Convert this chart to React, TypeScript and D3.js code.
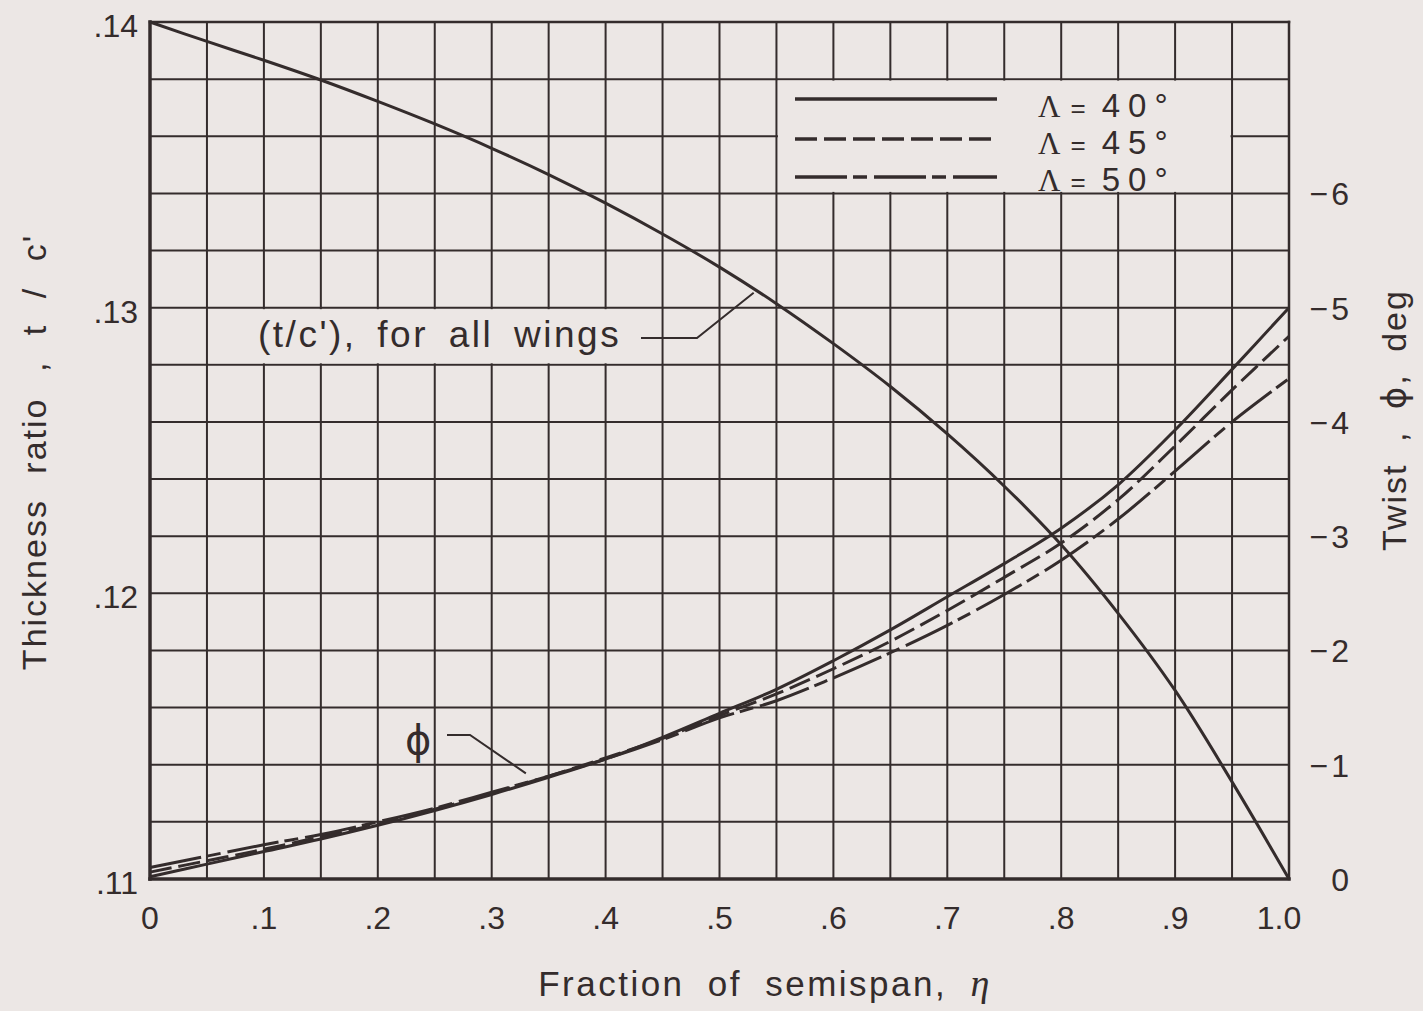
import React from 'react';
import * as d3 from 'd3';

// ---- data ----
const eta = [0, 0.05, 0.1, 0.15, 0.2, 0.25, 0.3, 0.35, 0.4, 0.45, 0.5, 0.55, 0.6, 0.65, 0.7, 0.75, 0.8, 0.85, 0.9, 0.95, 1.0];
const thicknessRatio = [0.14, 0.13932, 0.13866, 0.13797, 0.13722, 0.13643, 0.13558, 0.13466, 0.13366, 0.13258, 0.13142, 0.13014, 0.12874, 0.12724, 0.12558, 0.12375, 0.1217, 0.1193, 0.1166, 0.1134, 0.11];
const twist40 = [-0.02, -0.13, -0.24, -0.35, -0.47, -0.6, -0.74, -0.89, -1.05, -1.24, -1.45, -1.66, -1.91, -2.18, -2.47, -2.76, -3.07, -3.45, -3.93, -4.46, -5.0];
const twist45 = [-0.06, -0.16, -0.26, -0.37, -0.48, -0.61, -0.75, -0.9, -1.06, -1.23, -1.43, -1.62, -1.84, -2.08, -2.35, -2.64, -2.94, -3.32, -3.79, -4.28, -4.75];
const twist50 = [-0.1, -0.2, -0.3, -0.39, -0.5, -0.62, -0.76, -0.9, -1.05, -1.22, -1.41, -1.56, -1.76, -1.98, -2.22, -2.49, -2.79, -3.15, -3.57, -4.0, -4.38];

const etaTicks = [0, 0.1, 0.2, 0.3, 0.4, 0.5, 0.6, 0.7, 0.8, 0.9, 1.0];
const etaTickLabels = ['0', '.1', '.2', '.3', '.4', '.5', '.6', '.7', '.8', '.9', '1.0'];
const tcTicks = [0.11, 0.12, 0.13, 0.14];
const tcTickLabels = ['.11', '.12', '.13', '.14'];
const twistTicks = [0, -1, -2, -3, -4, -5, -6];
const twistTickLabels = ['0', '\u22121', '\u22122', '\u22123', '\u22124', '\u22125', '\u22126'];
const sweepLabels = ['40°', '45°', '50°'];
const sweepDashes = ['none', '22,7', '52,6,14,7'];

const W = 1423;
const H = 1011;
const BG = '#ece7e5';
const INK = '#342c2c';
const FONT = "'Liberation Sans', Arial, sans-serif";
const SERIF = "'Liberation Serif', 'DejaVu Serif', serif";

export default function App() {
  const x = d3.scaleLinear().domain([0, 1]).range([150, 1289]);
  const yL = d3.scaleLinear().domain([0.11, 0.14]).range([879, 22]);
  const yR = d3.scaleLinear().domain([0, -7.5]).range([879, 22]);

  const xGrid = d3.range(0, 21).map((i) => i * 0.05);
  const yGrid = d3.range(0, 16).map((i) => 0.11 + i * 0.002);

  const tcLine = d3
    .line<number>()
    .x((_, i) => x(eta[i]))
    .y((d) => yL(d))
    .curve(d3.curveCatmullRom.alpha(0.5));
  const twLine = d3
    .line<number>()
    .x((_, i) => x(eta[i]))
    .y((d) => yR(d))
    .curve(d3.curveCatmullRom.alpha(0.5));

  const twistSeries = [twist40, twist45, twist50];

  // boxes where the grid is blanked for lettering
  const legendBox = { x0: x(0.55), x1: x(0.95), y0: yL(0.138), y1: yL(0.134) };
  const labelBox = { x0: x(0.05), x1: x(0.45), y0: yL(0.13), y1: yL(0.128) };

  const legendLineY = [99, 139, 177];
  const legendBaseY = [117, 154, 191];

  return (
    <svg
      width={W}
      height={H}
      viewBox={`0 0 ${W} ${H}`}
      style={{ position: 'absolute', left: 0, top: 0, background: BG }}
    >
      <rect x={0} y={0} width={W} height={H} fill={BG} />

      {/* grid */}
      <g stroke={INK} strokeWidth={2}>
        {xGrid.map((v, i) => (
          <line key={'gx' + i} x1={x(v)} x2={x(v)} y1={yL(0.14)} y2={yL(0.11)} />
        ))}
        {yGrid.map((v, i) => (
          <line key={'gy' + i} x1={x(0)} x2={x(1)} y1={yL(v)} y2={yL(v)} />
        ))}
      </g>

      {/* blanked boxes */}
      <rect
        x={legendBox.x0 + 1.5}
        y={legendBox.y0 + 1.5}
        width={legendBox.x1 - legendBox.x0 - 3}
        height={legendBox.y1 - legendBox.y0 - 3}
        fill={BG}
      />
      <rect
        x={labelBox.x0 + 1.5}
        y={labelBox.y0 + 1.5}
        width={labelBox.x1 - labelBox.x0 - 3}
        height={labelBox.y1 - labelBox.y0 - 3}
        fill={BG}
      />

      {/* frame */}
      <g stroke={INK} strokeLinecap="square">
        <line x1={x(0)} x2={x(0)} y1={yL(0.14)} y2={yL(0.11)} strokeWidth={3.5} />
        <line x1={x(0)} x2={x(1)} y1={yL(0.11)} y2={yL(0.11)} strokeWidth={3.5} />
        <line x1={x(0)} x2={x(1)} y1={yL(0.14)} y2={yL(0.14)} strokeWidth={2.5} />
        <line x1={x(1)} x2={x(1)} y1={yL(0.14)} y2={yL(0.11)} strokeWidth={2.5} />
      </g>

      {/* curves */}
      <path d={tcLine(thicknessRatio) || ''} fill="none" stroke={INK} strokeWidth={3} />
      {twistSeries.map((s, i) => (
        <path
          key={'tw' + i}
          d={twLine(s) || ''}
          fill="none"
          stroke={INK}
          strokeWidth={3}
          strokeDasharray={sweepDashes[i]}
        />
      ))}

      {/* legend */}
      {sweepLabels.map((lab, i) => (
        <line
          key={'ll' + i}
          x1={795}
          x2={997}
          y1={legendLineY[i]}
          y2={legendLineY[i]}
          stroke={INK}
          strokeWidth={3.5}
          strokeDasharray={sweepDashes[i]}
        />
      ))}
      {sweepLabels.map((lab, i) => (
        <text
          key={'lt' + i}
          x={1038}
          y={legendBaseY[i]}
          fill={INK}
          fontFamily={FONT}
          fontSize={33}
        >
          <tspan fontFamily={SERIF} fontSize={31}>
            Λ
          </tspan>
          <tspan dx={10} fontSize={26}>=</tspan>
          <tspan dx={16} letterSpacing={8}>{lab}</tspan>
        </text>
      ))}

      {/* annotations */}
      <text
        x={258}
        y={347}
        fill={INK}
        fontFamily={FONT}
        fontSize={37}
        letterSpacing={2.5}
        wordSpacing={8}
      >
        (t/c'), for all wings
      </text>
      <polyline
        points={`641,338 697,338 ${x(0.53)},${yL(thicknessRatio[11]) - 11}`}
        fill="none"
        stroke={INK}
        strokeWidth={2}
      />
      <text x={405} y={754} fill={INK} fontFamily="'DejaVu Sans', sans-serif" fontSize={40}>
        ϕ
      </text>
      <polyline
        points={`447,735 470,735 ${x(0.33)},${yR(twist40[7]) - 4}`}
        fill="none"
        stroke={INK}
        strokeWidth={2}
      />

      {/* bottom tick labels */}
      {etaTicks.map((v, i) => (
        <text
          key={'bt' + i}
          x={x(v) - (v === 1 ? 10 : 0)}
          y={929}
          textAnchor="middle"
          fill={INK}
          fontFamily={FONT}
          fontSize={32}
        >
          {etaTickLabels[i]}
        </text>
      ))}
      {/* left tick labels */}
      {tcTicks.map((v, i) => (
        <text
          key={'lt' + i}
          x={138}
          y={yL(v) + 15}
          textAnchor="end"
          fill={INK}
          fontFamily={FONT}
          fontSize={32}
        >
          {tcTickLabels[i]}
        </text>
      ))}
      {/* right tick labels */}
      {twistTicks.map((v, i) => (
        <text
          key={'rt' + i}
          x={1352}
          y={yR(v) + 12}
          textAnchor="end"
          fill={INK}
          fontFamily={FONT}
          fontSize={32}
          letterSpacing={3}
        >
          {twistTickLabels[i]}
        </text>
      ))}

      {/* axis titles */}
      <text
        x={765}
        y={996}
        textAnchor="middle"
        fill={INK}
        fontFamily={FONT}
        fontSize={35}
        letterSpacing={2.5}
        wordSpacing={11}
      >
        Fraction of semispan,{' '}
        <tspan fontFamily={SERIF} fontStyle="italic" fontSize={38}>
          η
        </tspan>
      </text>
      <text
        transform={`translate(46,452) rotate(-90)`}
        textAnchor="middle"
        fill={INK}
        fontFamily={FONT}
        fontSize={34}
        letterSpacing={2}
        wordSpacing={14}
      >
        Thickness ratio , t / c'
      </text>
      <text
        transform={`translate(1406,420) rotate(-90)`}
        textAnchor="middle"
        fill={INK}
        fontFamily={FONT}
        fontSize={34}
        letterSpacing={2}
        wordSpacing={10}
      >
        Twist , <tspan fontFamily="'DejaVu Sans', sans-serif">ϕ</tspan>, deg
      </text>
    </svg>
  );
}
